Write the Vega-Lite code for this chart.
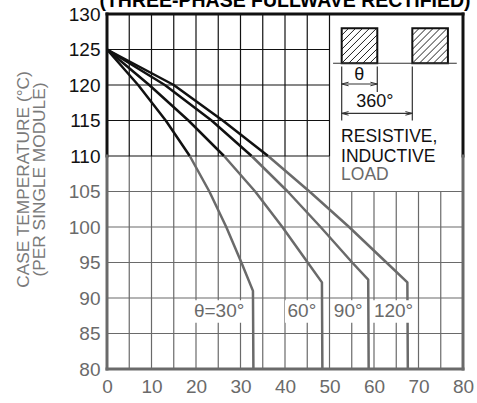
{
  "$schema": "https://vega.github.io/schema/vega-lite/v6.json",
  "width": 356,
  "height": 355,
  "autosize": "none",
  "padding": {"left": 107, "top": 14, "right": 14, "bottom": 34},
  "background": "white",
  "config": {
    "view": {"stroke": null},
    "font": "Liberation Sans",
    "axis": {"domain": false, "ticks": false, "grid": false, "labelFont": "Liberation Sans", "titleFont": "Liberation Sans"}
  },
  "title": {
    "text": "(THREE-PHASE FULLWAVE RECTIFIED)",
    "font": "Liberation Sans",
    "fontSize": 19.5,
    "fontWeight": "bold",
    "color": "#000000",
    "anchor": "middle",
    "frame": "group",
    "offset": 0,
    "baseline": "alphabetic",
    "dy": 21
  },
  "datasets": {
    "grid": [
      {"x": 5, "x2": 5, "y": 80, "y2": 110, "tone": "light"},
      {"x": 10, "x2": 10, "y": 80, "y2": 110, "tone": "light"},
      {"x": 15, "x2": 15, "y": 80, "y2": 110, "tone": "light"},
      {"x": 20, "x2": 20, "y": 80, "y2": 110, "tone": "light"},
      {"x": 25, "x2": 25, "y": 80, "y2": 110, "tone": "light"},
      {"x": 30, "x2": 30, "y": 80, "y2": 110, "tone": "light"},
      {"x": 35, "x2": 35, "y": 80, "y2": 110, "tone": "light"},
      {"x": 40, "x2": 40, "y": 80, "y2": 110, "tone": "light"},
      {"x": 45, "x2": 45, "y": 80, "y2": 110, "tone": "light"},
      {"x": 50, "x2": 50, "y": 80, "y2": 110, "tone": "light"},
      {"x": 55, "x2": 55, "y": 80, "y2": 105, "tone": "light"},
      {"x": 60, "x2": 60, "y": 80, "y2": 105, "tone": "light"},
      {"x": 65, "x2": 65, "y": 80, "y2": 105, "tone": "light"},
      {"x": 70, "x2": 70, "y": 80, "y2": 105, "tone": "light"},
      {"x": 75, "x2": 75, "y": 80, "y2": 105, "tone": "light"},
      {"x": 5, "x2": 5, "y": 110, "y2": 130, "tone": "dark"},
      {"x": 10, "x2": 10, "y": 110, "y2": 130, "tone": "dark"},
      {"x": 15, "x2": 15, "y": 110, "y2": 130, "tone": "dark"},
      {"x": 20, "x2": 20, "y": 110, "y2": 130, "tone": "dark"},
      {"x": 25, "x2": 25, "y": 110, "y2": 130, "tone": "dark"},
      {"x": 30, "x2": 30, "y": 110, "y2": 130, "tone": "dark"},
      {"x": 35, "x2": 35, "y": 110, "y2": 130, "tone": "dark"},
      {"x": 40, "x2": 40, "y": 110, "y2": 130, "tone": "dark"},
      {"x": 45, "x2": 45, "y": 110, "y2": 130, "tone": "dark"},
      {"x": 50, "x2": 50, "y": 110, "y2": 130, "tone": "dark"},
      {"x": 0, "x2": 80, "y": 85, "y2": 85, "tone": "light"},
      {"x": 0, "x2": 80, "y": 90, "y2": 90, "tone": "light"},
      {"x": 0, "x2": 80, "y": 95, "y2": 95, "tone": "light"},
      {"x": 0, "x2": 80, "y": 100, "y2": 100, "tone": "light"},
      {"x": 0, "x2": 80, "y": 105, "y2": 105, "tone": "light"},
      {"x": 0, "x2": 50, "y": 110, "y2": 110, "tone": "dark"},
      {"x": 0, "x2": 50, "y": 115, "y2": 115, "tone": "dark"},
      {"x": 0, "x2": 50, "y": 120, "y2": 120, "tone": "dark"},
      {"x": 0, "x2": 50, "y": 125, "y2": 125, "tone": "dark"}
    ],
    "frame": [
      {"x": 0, "x2": 80, "y": 130, "y2": 130, "tone": "dark"},
      {"x": 0, "x2": 0, "y": 110, "y2": 130, "tone": "dark"},
      {"x": 80, "x2": 80, "y": 110, "y2": 130, "tone": "dark"},
      {"x": 0, "x2": 0, "y": 80, "y2": 110, "tone": "light"},
      {"x": 80, "x2": 80, "y": 80, "y2": 110, "tone": "light"},
      {"x": 0, "x2": 80, "y": 80, "y2": 80, "tone": "light"}
    ],
    "curves": [
      {"theta": "30", "i": 1, "x": 0, "y": 125, "tone": "dark"},
      {"theta": "30", "i": 2, "x": 7, "y": 120, "tone": "dark"},
      {"theta": "30", "i": 3, "x": 13.2, "y": 115, "tone": "dark"},
      {"theta": "30", "i": 4, "x": 18.6, "y": 110, "tone": "dark"},
      {"theta": "30", "i": 5, "x": 18.6, "y": 110, "tone": "light"},
      {"theta": "30", "i": 6, "x": 23, "y": 105, "tone": "light"},
      {"theta": "30", "i": 7, "x": 26.8, "y": 100, "tone": "light"},
      {"theta": "30", "i": 8, "x": 30.2, "y": 95, "tone": "light"},
      {"theta": "30", "i": 9, "x": 32.8, "y": 91, "tone": "light"},
      {"theta": "30", "i": 10, "x": 32.9, "y": 80, "tone": "light"},
      {"theta": "60", "i": 1, "x": 0, "y": 125, "tone": "dark"},
      {"theta": "60", "i": 2, "x": 9.5, "y": 120, "tone": "dark"},
      {"theta": "60", "i": 3, "x": 18.3, "y": 115, "tone": "dark"},
      {"theta": "60", "i": 4, "x": 26.3, "y": 110, "tone": "dark"},
      {"theta": "60", "i": 5, "x": 26.3, "y": 110, "tone": "light"},
      {"theta": "60", "i": 6, "x": 33.3, "y": 105, "tone": "light"},
      {"theta": "60", "i": 7, "x": 39.4, "y": 100, "tone": "light"},
      {"theta": "60", "i": 8, "x": 45.1, "y": 95, "tone": "light"},
      {"theta": "60", "i": 9, "x": 48.3, "y": 92.2, "tone": "light"},
      {"theta": "60", "i": 10, "x": 48.4, "y": 80, "tone": "light"},
      {"theta": "90", "i": 1, "x": 0, "y": 125, "tone": "dark"},
      {"theta": "90", "i": 2, "x": 13, "y": 120, "tone": "dark"},
      {"theta": "90", "i": 3, "x": 23.5, "y": 115, "tone": "dark"},
      {"theta": "90", "i": 4, "x": 32.5, "y": 110, "tone": "dark"},
      {"theta": "90", "i": 5, "x": 32.5, "y": 110, "tone": "light"},
      {"theta": "90", "i": 6, "x": 40.6, "y": 105, "tone": "light"},
      {"theta": "90", "i": 7, "x": 48, "y": 100, "tone": "light"},
      {"theta": "90", "i": 8, "x": 55.1, "y": 95, "tone": "light"},
      {"theta": "90", "i": 9, "x": 58.7, "y": 92.6, "tone": "light"},
      {"theta": "90", "i": 10, "x": 58.8, "y": 80, "tone": "light"},
      {"theta": "120", "i": 1, "x": 0, "y": 125, "tone": "dark"},
      {"theta": "120", "i": 2, "x": 15, "y": 120, "tone": "dark"},
      {"theta": "120", "i": 3, "x": 26, "y": 115, "tone": "dark"},
      {"theta": "120", "i": 4, "x": 36.2, "y": 110, "tone": "dark"},
      {"theta": "120", "i": 5, "x": 36.2, "y": 110, "tone": "light"},
      {"theta": "120", "i": 6, "x": 45.5, "y": 105, "tone": "light"},
      {"theta": "120", "i": 7, "x": 54.4, "y": 100, "tone": "light"},
      {"theta": "120", "i": 8, "x": 62.8, "y": 95, "tone": "light"},
      {"theta": "120", "i": 9, "x": 67.5, "y": 92.2, "tone": "light"},
      {"theta": "120", "i": 10, "x": 67.6, "y": 80, "tone": "light"}
    ],
    "labelboxes": [
      {"x": 18.5, "x2": 32.2, "y": 86.5, "y2": 89.7},
      {"x": 40.0, "x2": 47.6, "y": 86.5, "y2": 89.7},
      {"x": 50.7, "x2": 57.8, "y": 86.5, "y2": 89.7},
      {"x": 59.5, "x2": 69.2, "y": 86.5, "y2": 89.7}
    ],
    "curvelabels": [
      {"x": 25.2, "y": 88.1, "text": "θ=30°"},
      {"x": 43.8, "y": 88.1, "text": "60°"},
      {"x": 54.2, "y": 88.1, "text": "90°"},
      {"x": 64.4, "y": 88.1, "text": "120°"}
    ],
    "hatch": [
      {"x": 52.74, "y": 127.0, "x2": 54.31, "y2": 128.0},
      {"x": 52.74, "y": 126.01, "x2": 55.89, "y2": 128.0},
      {"x": 52.74, "y": 125.03, "x2": 57.46, "y2": 128.0},
      {"x": 52.74, "y": 124.04, "x2": 59.03, "y2": 128.0},
      {"x": 52.74, "y": 123.06, "x2": 60.61, "y2": 128.0},
      {"x": 54.31, "y": 123.06, "x2": 60.74, "y2": 127.08},
      {"x": 55.89, "y": 123.06, "x2": 60.74, "y2": 126.1},
      {"x": 57.46, "y": 123.06, "x2": 60.74, "y2": 125.11},
      {"x": 59.03, "y": 123.06, "x2": 60.74, "y2": 124.13},
      {"x": 68.61, "y": 127.0, "x2": 70.18, "y2": 128.0},
      {"x": 68.61, "y": 126.01, "x2": 71.76, "y2": 128.0},
      {"x": 68.61, "y": 125.03, "x2": 73.33, "y2": 128.0},
      {"x": 68.61, "y": 124.04, "x2": 74.9, "y2": 128.0},
      {"x": 68.61, "y": 123.06, "x2": 76.48, "y2": 128.0},
      {"x": 70.18, "y": 123.06, "x2": 76.61, "y2": 127.08},
      {"x": 71.76, "y": 123.06, "x2": 76.61, "y2": 126.1},
      {"x": 73.33, "y": 123.06, "x2": 76.61, "y2": 125.11},
      {"x": 74.9, "y": 123.06, "x2": 76.61, "y2": 124.13}
    ],
    "pulses": [
      {"x": 52.74, "x2": 60.74, "y": 123.06, "y2": 128.0},
      {"x": 68.61, "x2": 76.61, "y": 123.06, "y2": 128.0}
    ],
    "dims": [
      {"x": 50.8, "x2": 78.6, "y": 123.06, "y2": 123.06},
      {"x": 52.74, "x2": 52.74, "y": 122.6, "y2": 115.0},
      {"x": 60.74, "x2": 60.74, "y": 122.6, "y2": 119.0},
      {"x": 68.61, "x2": 68.61, "y": 122.6, "y2": 115.0},
      {"x": 52.74, "x2": 60.74, "y": 120.14, "y2": 120.14},
      {"x": 52.74, "x2": 68.61, "y": 116.0, "y2": 116.0}
    ],
    "arrows": [
      {"x": 52.74, "y": 120.14, "dir": "left"},
      {"x": 60.74, "y": 120.14, "dir": "right"},
      {"x": 52.74, "y": 116.0, "dir": "left"},
      {"x": 68.61, "y": 116.0, "dir": "right"}
    ],
    "dimtext": [
      {"x": 56.7, "y": 121.4, "text": "θ"},
      {"x": 60.2, "y": 117.65, "text": "360°"}
    ],
    "loadtext": [
      {"x": 52.6, "y": 112.7, "text": "RESISTIVE,", "tone": "dark"},
      {"x": 52.6, "y": 109.85, "text": "INDUCTIVE", "tone": "dark"},
      {"x": 52.6, "y": 107.28, "text": "LOAD", "tone": "light"}
    ]
  },
  "encoding": {
    "x": {
      "field": "x",
      "type": "quantitative",
      "scale": {"domain": [0, 80], "nice": false, "zero": false},
      "axis": {
        "values": [0, 10, 20, 30, 40, 50, 60, 70, 80],
        "title": null,
        "labelFontSize": 19,
        "labelColor": "#6a6a6a",
        "labelPadding": 8,
        "labelFlush": false,
        "labelOverlap": false
      }
    },
    "y": {
      "field": "y",
      "type": "quantitative",
      "scale": {"domain": [80, 130], "nice": false, "zero": false},
      "axis": {
        "values": [80, 85, 90, 95, 100, 105, 110, 115, 120, 125, 130],
        "labelFontSize": 19,
        "labelColor": {"condition": {"test": "datum.value >= 110", "value": "#111111"}, "value": "#6a6a6a"},
        "labelPadding": 7,
        "labelFlush": false,
        "labelOverlap": false,
        "title": ["CASE TEMPERATURE (°C)", "(PER SINGLE MODULE)"],
        "titleFontSize": 17.3,
        "titleFontWeight": "normal",
        "titleColor": "#7a7a7a",
        "titleLineHeight": 16,
        "titlePadding": 20,
        "titleY": 165
      }
    }
  },
  "layer": [
    {
      "data": {"name": "grid"},
      "mark": {"type": "rule", "strokeWidth": 1.2},
      "encoding": {
        "x2": {"field": "x2"},
        "y2": {"field": "y2"},
        "color": {"field": "tone", "type": "nominal", "scale": {"domain": ["dark", "light"], "range": ["#111111", "#6a6a6a"]}, "legend": null}
      }
    },
    {
      "data": {"name": "curves"},
      "mark": {"type": "line", "strokeWidth": 2.5, "strokeJoin": "round"},
      "encoding": {
        "detail": {"field": "theta"},
        "order": {"field": "i", "type": "quantitative"},
        "color": {"field": "tone", "type": "nominal", "legend": null}
      }
    },
    {
      "data": {"name": "frame"},
      "mark": {"type": "rule", "strokeWidth": 3, "strokeCap": "square"},
      "encoding": {
        "x2": {"field": "x2"},
        "y2": {"field": "y2"},
        "color": {"field": "tone", "type": "nominal", "legend": null}
      }
    },
    {
      "data": {"name": "labelboxes"},
      "mark": {"type": "rect", "fill": "white"},
      "encoding": {"x2": {"field": "x2"}, "y2": {"field": "y2"}}
    },
    {
      "data": {"name": "curvelabels"},
      "mark": {"type": "text", "fontSize": 19, "color": "#6a6a6a", "align": "center", "baseline": "middle"},
      "encoding": {"text": {"field": "text"}}
    },
    {
      "data": {"name": "hatch"},
      "mark": {"type": "rule", "strokeWidth": 1, "color": "#222222"},
      "encoding": {"x2": {"field": "x2"}, "y2": {"field": "y2"}}
    },
    {
      "data": {"name": "pulses"},
      "mark": {"type": "rect", "fill": null, "fillOpacity": 0, "stroke": "#111111", "strokeWidth": 2},
      "encoding": {"x2": {"field": "x2"}, "y2": {"field": "y2"}}
    },
    {
      "data": {"name": "dims"},
      "mark": {"type": "rule", "strokeWidth": 1.2, "color": "#333333"},
      "encoding": {"x2": {"field": "x2"}, "y2": {"field": "y2"}}
    },
    {
      "data": {"name": "arrows"},
      "mark": {"type": "point", "filled": false, "stroke": "#333333", "strokeWidth": 1, "size": 36, "opacity": 1},
      "encoding": {
        "shape": {"field": "dir", "type": "nominal", "scale": {"domain": ["left", "right"], "range": ["M0,0L2.3,-0.6M0,0L2.3,0.6", "M0,0L-2.3,-0.6M0,0L-2.3,0.6"]}, "legend": null}
      }
    },
    {
      "data": {"name": "dimtext"},
      "mark": {"type": "text", "fontSize": 18, "color": "#111111", "align": "center", "baseline": "middle"},
      "encoding": {"text": {"field": "text"}}
    },
    {
      "data": {"name": "loadtext"},
      "mark": {"type": "text", "fontSize": 17.5, "align": "left", "baseline": "middle"},
      "encoding": {
        "text": {"field": "text"},
        "color": {"field": "tone", "type": "nominal", "legend": null}
      }
    }
  ]
}
